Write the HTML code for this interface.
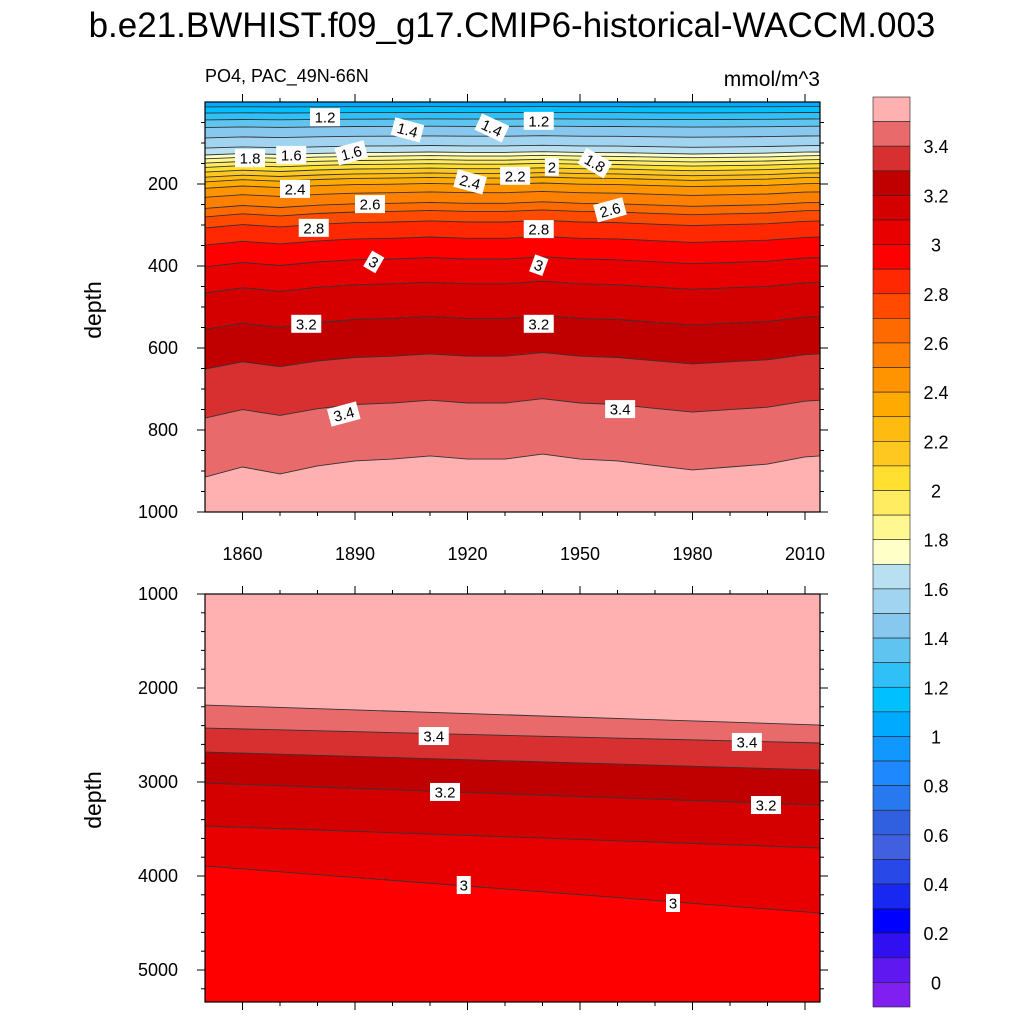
<!DOCTYPE html>
<html><head><meta charset="utf-8"><style>
body{margin:0;background:#fff;}
svg{display:block;font-family:"Liberation Sans",sans-serif;}
</style></head><body>
<svg id="c" width="1024" height="1024" viewBox="0 0 1024 1024">
<text x="512" y="37" font-size="35" text-anchor="middle">b.e21.BWHIST.f09_g17.CMIP6-historical-WACCM.003</text>
<text x="205" y="82" font-size="18">PO4, PAC_49N-66N</text>
<text x="820" y="86" font-size="21" text-anchor="end">mmol/m^3</text>
<text transform="translate(101,310) rotate(-90)" font-size="23" text-anchor="middle">depth</text>
<text transform="translate(101,800) rotate(-90)" font-size="23" text-anchor="middle">depth</text>
<defs>
<clipPath id="cu"><rect x="205" y="102" width="615" height="410"/></clipPath>
<clipPath id="cl"><rect x="205" y="594" width="615" height="408"/></clipPath>
</defs>
<g id="upper" clip-path="url(#cu)"></g>
<g id="lower" clip-path="url(#cl)"></g>
<g id="axes"></g>
<g id="labels"></g>
<g id="cbar"></g>
</svg>
<script>
// colorbar colours, top (>=3.5) to bottom (-0.1..0)
const colors=["#ffb0b0","#e86a6a","#d83030","#c00000","#d40000","#e80000","#ff0000","#ff2800","#ff4a00","#ff6a00","#ff8000","#ff9400","#ffaa00","#ffbb10","#ffc820","#ffe030","#ffec60","#fff890","#ffffc8","#b8e0f0","#a0d4f0","#88c8ee","#60c4f0","#30c0f8","#00c0ff","#00aaff","#1098ff","#1e88ff","#2878f0","#3060e0","#4060e0","#2848e8","#1828f0","#0000ff","#3010f0","#6018f0","#8020f0"];
const cbarLabels=["3.4","3.2","3","2.8","2.6","2.4","2.2","2","1.8","1.6","1.4","1.2","1","0.8","0.6","0.4","0.2","0"];
// upper panel isolines
const upLevels=[1.1,1.2,1.3,1.4,1.5,1.6,1.7,1.8,1.9,2.0,2.1,2.2,2.3,2.4,2.5,2.6,2.7,2.8,2.9,3.0,3.1,3.2,3.3,3.4,3.5];
const upMeanDepth=[11.5,26,42,60,84,108,124,133,143,153,164,176,187,202,223,249,269,295,335,386,447,532,625,740,878];
const anomYears=[1850,1860,1870,1880,1890,1900,1910,1920,1930,1940,1950,1960,1970,1980,1990,2000,2010,2014];
const anomFrac=[0.042,0.014,0.033,0.011,-0.003,-0.008,-0.017,-0.008,-0.008,-0.022,-0.008,-0.003,0.010,0.022,0.014,0.006,-0.014,-0.017];
// lower panel isolines
const lowLevels=[3.0,3.1,3.2,3.3,3.4,3.5];
const lowDepthStart=[3894,3468,3011,2681,2426,2181];
const lowDepthEnd=[4394,3702,3245,2872,2585,2394];
const upLabels=[["1.2",1882,37,0],["1.4",1904,68,15],["1.4",1926.5,63,25],["1.2",1939,46,0],["1.8",1862,137,0],["1.6",1873,129,0],["1.6",1889,124,-15],["2",1942.5,158,0],["1.8",1954,149,30],["2.4",1874,212,0],["2.2",1932.7,180,0],["2.4",1920.7,195,15],["2.6",1894,249,0],["2.6",1958,263,-15],["2.8",1879,307,0],["2.8",1939,310,0],["3",1895,390,30],["3",1939,398,20],["3.2",1877,541,0],["3.2",1939,541,0],["3.4",1887,761,-15],["3.4",1960.7,749,0]];
const lowLabels=[["3.4",1911,2511],["3.4",1994.5,2574],["3.2",1914,3106],["3.2",1999.6,3245],["3",1919,4096],["3",1974.8,4287]];

const NS="http://www.w3.org/2000/svg";
function mk(tag,attrs,parent){const e=document.createElementNS(NS,tag);for(const k in attrs)e.setAttribute(k,attrs[k]);parent.appendChild(e);return e;}
const X0=1850,X1=2014,PX0=205,PX1=820;
function xs(yr){return PX0+(yr-X0)/(X1-X0)*(PX1-PX0);}
function yu(d){return 102+d*0.41;}
function yl(d){return 594+(d-1000)*0.094;}
function colorFor(v){const k=Math.round((3.5-v)/0.1);return colors[Math.max(0,Math.min(colors.length-1,k))];}

// upper
const upG=document.getElementById('upper');
const bgU=mk('rect',{x:205,y:102,width:615,height:410,fill:colorFor(1.0)},upG);


upLevels.forEach((lv,i)=>{
  const pts=anomYears.map((yr,j)=>[xs(yr),yu(upMeanDepth[i]*(1+anomFrac[j]))]);
  const line=pts.map(p=>p[0].toFixed(1)+','+p[1].toFixed(1)).join(' L');
  const band=mk('path',{d:'M'+line+' L'+xs(X1)+',520 L'+xs(X0)+',520 Z',fill:colorFor(lv)},upG);
  
  
});
upLevels.forEach((lv,i)=>{
  const pts=anomYears.map((yr,j)=>[xs(yr),yu(upMeanDepth[i]*(1+anomFrac[j]))]);
  const l=mk('path',{d:'M'+pts.map(p=>p[0].toFixed(1)+','+p[1].toFixed(1)).join(' L'),fill:'none',stroke:'#333',"stroke-width":0.9},upG);
  
  
});
// lower
const loG=document.getElementById('lower');
const topBand=mk('rect',{x:205,y:594,width:615,height:408,fill:colorFor(3.5)},loG);


for(let i=lowLevels.length-1;i>=0;i--){
  const lv=lowLevels[i];
  const c=colorFor(lv-0.1);
  const p=mk('path',{d:`M${xs(X0)},${yl(lowDepthStart[i])} L${xs(X1)},${yl(lowDepthEnd[i])} L${xs(X1)},1010 L${xs(X0)},1010 Z`,fill:c},loG);
  
  
}
lowLevels.forEach((lv,i)=>{
  const l=mk('line',{x1:xs(X0),y1:yl(lowDepthStart[i]),x2:xs(X1),y2:yl(lowDepthEnd[i]),stroke:'#333',"stroke-width":0.9},loG);
  
  
});

// labels
const labG=document.getElementById('labels');
function label(t,x,y,rot,name){
  const g=mk('g',{transform:`translate(${x},${y}) rotate(${rot})`},labG);
  
  
  const w=t.length*8+6;
  mk('rect',{x:-w/2,y:-9,width:w,height:18,fill:'#fff'},g);
  mk('text',{x:0,y:5.5,"font-size":15,"text-anchor":"middle"},g).textContent=t;
}
upLabels.forEach(l=>label(l[0],xs(l[1]),yu(l[2]),l[3],'contour-label-upper'));
lowLabels.forEach(l=>label(l[0],xs(l[1]),yl(l[2]),0,'contour-label-lower'));

// axes
const axG=document.getElementById('axes');
function frame(y0,y1,name){const r=mk('rect',{x:205,y:y0,width:615,height:y1-y0,fill:'none',stroke:'#000',"stroke-width":1.2},axG);}
frame(102,512,'upper-plot-frame');frame(594,1002,'lower-plot-frame');
for(let yr=1860;yr<=2010;yr+=10){
  const x=xs(yr),maj=(yr-1860)%30===0,L=maj?8:4;
  [[102,-1],[512,1],[594,-1],[1002,1]].forEach(([y,s])=>mk('line',{x1:x,y1:y,x2:x,y2:y+s*L,stroke:'#000'},axG));
  if(maj){const t=mk('text',{x:x,y:560,"font-size":18,"text-anchor":"middle"},axG);t.textContent=yr;
    }
}
for(let d=50;d<=1000;d+=50){const y=yu(d),maj=d%200===0,L=maj?8:4;
  mk('line',{x1:205,y1:y,x2:205-L,y2:y,stroke:'#000'},axG);mk('line',{x1:820,y1:y,x2:820+L,y2:y,stroke:'#000'},axG);
  if(maj){const t=mk('text',{x:178,y:y+6,"font-size":18,"text-anchor":"end"},axG);t.textContent=d;
    }}
for(let d=1000;d<=5300;d+=200){const y=yl(d),maj=d%1000===0,L=maj?8:4;
  mk('line',{x1:205,y1:y,x2:205-L,y2:y,stroke:'#000'},axG);mk('line',{x1:820,y1:y,x2:820+L,y2:y,stroke:'#000'},axG);
  if(maj){const t=mk('text',{x:178,y:y+6,"font-size":18,"text-anchor":"end"},axG);t.textContent=d;
    }}

// colorbar
const cbG=document.getElementById('cbar');
const cy0=97,ch=910/colors.length;
colors.forEach((c,k)=>{const r=mk('rect',{x:873,y:cy0+k*ch,width:37,height:ch,fill:c,stroke:'#222',"stroke-width":0.6},cbG);
  });
cbarLabels.forEach((t,i)=>{const y=cy0+(2+2*i)*ch;const e=mk('text',{x:936,y:y+7,"font-size":18,"text-anchor":"middle"},cbG);e.textContent=t;
  });
</script>
</body></html>
